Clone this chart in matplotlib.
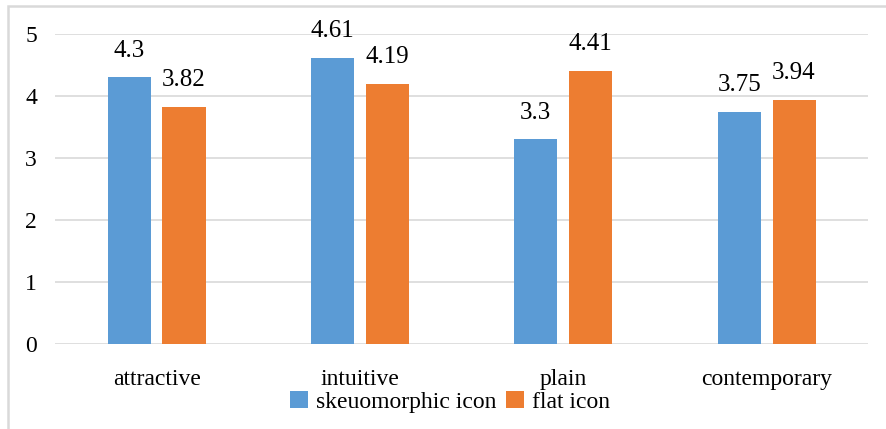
import matplotlib.pyplot as plt
import matplotlib.patches as mpatches
import numpy as np

categories = ['attractive', 'intuitive', 'plain', 'contemporary']
skeuomorphic = [4.3, 4.61, 3.3, 3.75]
flat = [3.82, 4.19, 4.41, 3.94]
series_names = ['skeuomorphic icon', 'flat icon']

plt.rcParams['font.family'] = ['Liberation Serif', 'DejaVu Serif']

fig = plt.figure(figsize=(8.86, 4.29), dpi=100)
ax = fig.add_axes([0.062, 0.198, 0.918, 0.7227])

# light frame around the chart
frame = mpatches.Rectangle((8 / 886, -0.1), 1.2, 1 - 6 / 429 + 0.1,
                           transform=fig.transFigure, fill=False,
                           edgecolor='#d9d9d9', linewidth=1.8)
fig.patches.append(frame)

x = np.arange(len(categories))
w = 0.212
off = 0.135
b1 = ax.bar(x - off, skeuomorphic, w, color='#5b9bd5', label=series_names[0], zorder=3)
b2 = ax.bar(x + off, flat, w, color='#ed7d31', label=series_names[1], zorder=3)

for bars, vals in [(b1, skeuomorphic), (b2, flat)]:
    for rect, v in zip(bars, vals):
        ax.annotate(str(v), (rect.get_x() + rect.get_width() / 2, v),
                    xytext=(0, 15), textcoords='offset points',
                    ha='center', va='baseline', fontsize=18)

ax.set_xlim(-0.5, 3.5)
ax.set_ylim(0, 5)
ax.set_yticks(range(6))
ax.set_xticks(x)
ax.set_xticklabels(categories)
ax.tick_params(axis='both', length=0, labelsize=17)
ax.tick_params(axis='y', pad=13)
ax.tick_params(axis='x', pad=18)
ax.grid(axis='y', color='#d9d9d9', linewidth=1.2, zorder=0)
for s in ax.spines.values():
    s.set_visible(False)

fig.legend(loc='center', bbox_to_anchor=(450 / 886, 1 - 402 / 429), ncol=2,
           frameon=False, fontsize=17, handlelength=0.75, handleheight=0.75,
           handletextpad=0.35, columnspacing=0.4)

fig.savefig('out.png', dpi=100)
